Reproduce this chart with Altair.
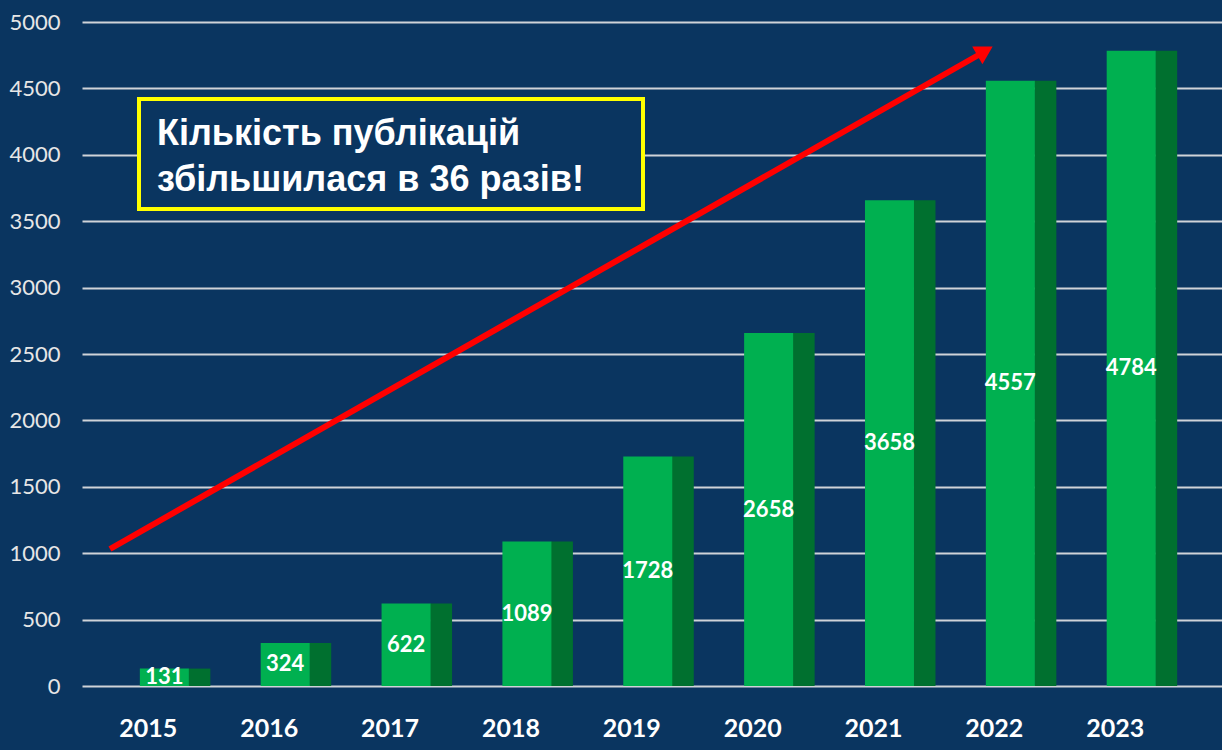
import altair as alt
import pandas as pd

years = [2015, 2016, 2017, 2018, 2019, 2020, 2021, 2022, 2023]
counts = [131, 324, 622, 1089, 1728, 2658, 3658, 4557, 4784]
y_ticks = [0, 500, 1000, 1500, 2000, 2500, 3000, 3500, 4000, 4500, 5000]
note_lines = ["Кількість публікацій", "збільшилася в 36 разів!"]

BG = "#0a3560"
FRONT = "#00b050"
SIDE = "#00702f"

df = pd.DataFrame({"year": years, "count": counts})
one = pd.DataFrame({"k": [0]})

x_scale = alt.Scale(domain=[2014.36, 2023.71], nice=False, zero=False)
y_scale = alt.Scale(domain=[0, 5000], nice=False)

x_enc = alt.X(
    "year:Q", scale=x_scale, title=None,
    axis=alt.Axis(values=years, format="d", domain=False, ticks=False, grid=False,
                  labels=False, minExtent=64, maxExtent=64),
)
y_enc = alt.Y(
    "count:Q", scale=y_scale, title=None,
    axis=alt.Axis(values=y_ticks, format="d", domain=False, ticks=False, grid=True,
                  gridColor="#cfd3d8", gridWidth=2,
                  labelColor="#e6e6e6", labelFont="Lato", labelFontSize=22,
                  labelPadding=22, minExtent=82, maxExtent=82),
)

base = alt.Chart(df)

side = base.mark_bar(size=22, xOffset=35, color=SIDE).encode(x=x_enc, y=y_enc)
front = base.mark_bar(size=49, color=FRONT).encode(x=x_enc, y=y_enc)
labels = base.transform_calculate(mid="datum.count / 2").mark_text(
    color="white", font="Lato", fontWeight="bold", fontSize=22, baseline="middle"
).encode(
    x=alt.X("year:Q", scale=x_scale),
    y=alt.Y("mid:Q", scale=y_scale),
    text=alt.Text("count:Q", format="d"),
)
year_labels = base.mark_text(
    color="white", font="Lato", fontWeight="bold", fontSize=25, baseline="middle", dx=-16
).encode(
    x=alt.X("year:Q", scale=x_scale),
    y=alt.value(707),
    text=alt.Text("year:Q", format="d"),
)

arrow_line = alt.Chart(one).mark_rule(color="#ff0000", strokeWidth=6).encode(
    x=alt.value(110 - 82), x2=alt.value(982 - 82), y=alt.value(549 - 22), y2=alt.value(53 - 22)
)
arrow_head = alt.Chart(one).mark_point(
    shape="triangle-up", filled=True, color="#ff0000", size=420, angle=60, opacity=1
).encode(x=alt.value(985 - 82), y=alt.value(51 - 22))

box = alt.Chart(one).mark_rect(fill=BG, stroke="#ffff00", strokeWidth=4).encode(
    x=alt.value(139 - 82), x2=alt.value(643 - 82), y=alt.value(99 - 22), y2=alt.value(209 - 22)
)
t1 = alt.Chart(one).mark_text(
    text=note_lines[0], align="left", baseline="middle", color="white",
    font="Liberation Sans", fontWeight="bold", fontSize=36
).encode(x=alt.value(157 - 82), y=alt.value(134 - 22))
t2 = alt.Chart(one).mark_text(
    text=note_lines[1], align="left", baseline="middle", color="white",
    font="Liberation Sans", fontWeight="bold", fontSize=36
).encode(x=alt.value(157 - 82), y=alt.value(180 - 22))

chart = alt.layer(side, front, labels, year_labels, arrow_line, arrow_head, box, t1, t2).properties(
    width=1140, height=664,
    padding={"top": 11, "left": 0, "right": 0, "bottom": 0},
    background=BG,
).configure_view(stroke=None)

chart.save("out.html", embed_options={"renderer": "svg", "actions": False})
